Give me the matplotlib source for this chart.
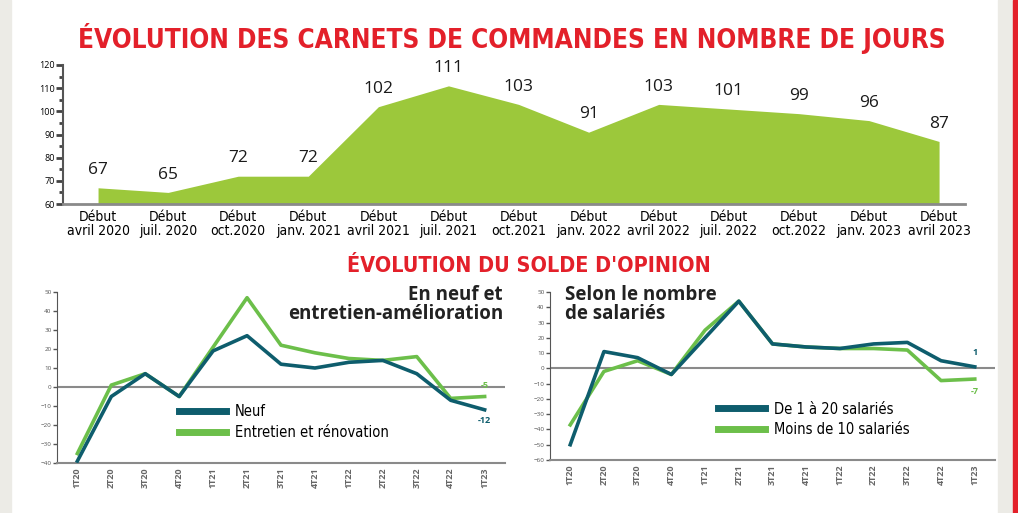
"""Carnets de commandes (jours) + solde d'opinion, recréation du graphique."""
import matplotlib
matplotlib.use("Agg")
import matplotlib.pyplot as plt
from matplotlib.patches import Rectangle
from matplotlib.ticker import MultipleLocator

# --- données ---
periodes = ['Début\navril 2020', 'Début\njuil. 2020', 'Début\noct.2020', 'Début\njanv. 2021',
            'Début\navril 2021', 'Début\njuil. 2021', 'Début\noct.2021', 'Début\njanv. 2022',
            'Début\navril 2022', 'Début\njuil. 2022', 'Début\noct.2022', 'Début\njanv. 2023',
            'Début\navril 2023']
jours = [67, 65, 72, 72, 102, 111, 103, 91, 103, 101, 99, 96, 87]

trimestres = ['1T20', '2T20', '3T20', '4T20', '1T21', '2T21', '3T21', '4T21',
              '1T22', '2T22', '3T22', '4T22', '1T23']
neuf = [-39, -5, 7, -5, 19, 27, 12, 10, 13, 14, 7, -7, -12]
entretien = [-35, 1, 7, -5, 21, 47, 22, 18, 15, 14, 16, -6, -5]
de1a20 = [-50, 11, 7, -4, 20, 44, 16, 14, 13, 16, 17, 5, 1]
moins10 = [-37, -2, 5, -4, 25, 44, 16, 14, 13, 13, 12, -8, -7]

ROUGE = '#e3202a'
TEAL = '#0e5d6d'
VERT = '#6cbf4a'
VERT_AIRE = '#9cc83b'
GRIS = '#8a8a8a'
plt.rcParams['font.family'] = ['Open Sans', 'DejaVu Sans']
COND = dict(family='DejaVu Sans', fontstretch='condensed')

fig = plt.figure(figsize=(10.18, 5.13), dpi=100)
fig.patch.set_facecolor('white')

# bandes latérales
W, H = 1018, 513
fig.patches.append(Rectangle((0, 0), 11 / W, 1, transform=fig.transFigure, color='#ecebe6', zorder=0))
fig.patches.append(Rectangle((998 / W, 0), 15 / W, 1, transform=fig.transFigure, color='#ecebe6', zorder=0))
fig.patches.append(Rectangle((1013 / W, 0), 5 / W, 1, transform=fig.transFigure, color=ROUGE, zorder=0))

fig.text(0.503, 1 - 38 / H, 'ÉVOLUTION DES CARNETS DE COMMANDES EN NOMBRE DE JOURS',
         ha='center', va='center', color=ROUGE, fontsize=18.8, fontweight='bold', **COND)
fig.text(0.52, 1 - 266 / H, "ÉVOLUTION DU SOLDE D'OPINION",
         ha='center', va='center', color=ROUGE, fontsize=15.5, fontweight='bold', **COND)

# --- graphique du haut : aire ---
ax = fig.add_axes([63 / W, 1 - 204 / H, (965 - 63) / W, (204 - 65) / H])
x = list(range(len(jours)))
ax.fill_between(x, jours, 60, color=VERT_AIRE, lw=0)
for i, v in enumerate(jours):
    ax.annotate(str(v), (i, v), xytext=(0, 7), textcoords='offset points',
                ha='center', va='bottom', fontsize=12.5, color='#1a1a1a')
ax.set_xlim(-0.5, 12.37)
ax.set_ylim(60, 120)
ax.yaxis.set_major_locator(MultipleLocator(10))
ax.yaxis.set_minor_locator(MultipleLocator(5))
ax.tick_params(axis='y', which='major', length=5, width=2, color='#444444', labelsize=6.5, pad=1)
ax.tick_params(axis='y', which='minor', length=3, width=2, color='#444444')
ax.set_xticks(x)
ax.set_xticklabels(periodes, fontsize=10, linespacing=1.0, **COND)
ax.tick_params(axis='x', length=0, pad=4)
for s in ['top', 'right']:
    ax.spines[s].set_visible(False)
ax.spines['left'].set_color('#555555')
ax.spines['left'].set_linewidth(1.5)
ax.spines['bottom'].set_color(GRIS)
ax.spines['bottom'].set_linewidth(2)
ax.set_facecolor('none')


def petit_graphe(rect, s1, s2, lab1, lab2, ylim, titre, titre_x, titre_ha, leg_x, fin1, fin2):
    a = fig.add_axes(rect)
    xx = list(range(len(s1)))
    a.axhline(0, color=GRIS, lw=1.5, zorder=1)
    a.plot(xx, s2, color=VERT, lw=2.6, label=lab2, zorder=2)
    a.plot(xx, s1, color=TEAL, lw=2.6, label=lab1, zorder=3)
    a.set_ylim(*ylim)
    a.yaxis.set_major_locator(MultipleLocator(10))
    a.tick_params(axis='y', length=3, width=1, color='#555555', labelsize=4.5, labelcolor='#555555', pad=1)
    a.set_xticks(xx)
    a.set_xticklabels(trimestres, rotation=90, fontsize=6.5, color='#666666', fontweight='bold')
    a.tick_params(axis='x', length=0, pad=3)
    for s in ['top', 'right']:
        a.spines[s].set_visible(False)
    a.spines['left'].set_color('#555555')
    a.spines['bottom'].set_color(GRIS)
    a.spines['bottom'].set_linewidth(1.5)
    a.set_facecolor('none')
    # valeurs finales
    n = len(s1) - 1
    a.annotate(fin1[0], (n, s1[-1]), xytext=fin1[1], textcoords='offset points',
               ha='center', va='center', fontsize=6.5, color=TEAL, fontweight='bold')
    a.annotate(fin2[0], (n, s2[-1]), xytext=fin2[1], textcoords='offset points',
               ha='center', va='center', fontsize=6.5, color=VERT, fontweight='bold')
    h, l = a.get_legend_handles_labels()
    leg = a.legend(h[::-1], l[::-1], loc='lower left', bbox_to_anchor=(leg_x, 0.1), frameon=False,
                   prop=dict(size=10.5, family='DejaVu Sans', stretch='condensed'),
                   handlelength=3.2, handletextpad=0.6, labelspacing=0.4, borderaxespad=0)
    for line in leg.get_lines():
        line.set_linewidth(5)
    fig.text(titre_x, 1 - 285 / H, titre, ha=titre_ha, va='top', fontsize=13.5,
             fontweight='bold', color='#222222', linespacing=0.95)
    return a


petit_graphe([57 / W, 1 - 463 / H, (505 - 57) / W, (463 - 292) / H],
             neuf, entretien, 'Neuf', 'Entretien et rénovation', (-40, 50),
             'En neuf et\nentretien-amélioration', 503 / W, 'right', 0.26,
             ('-12', (0, -8)), ('-5', (0, 8)))

petit_graphe([550 / W, 1 - 460 / H, (995 - 550) / W, (460 - 292) / H],
             de1a20, moins10, 'De 1 à 20 salariés', 'Moins de 10 salariés', (-60, 50),
             'Selon le nombre\nde salariés', 565 / W, 'left', 0.365,
             ('1', (0, 10)), ('-7', (0, -9)))

fig.savefig('out.png', dpi=100, facecolor=fig.get_facecolor())
